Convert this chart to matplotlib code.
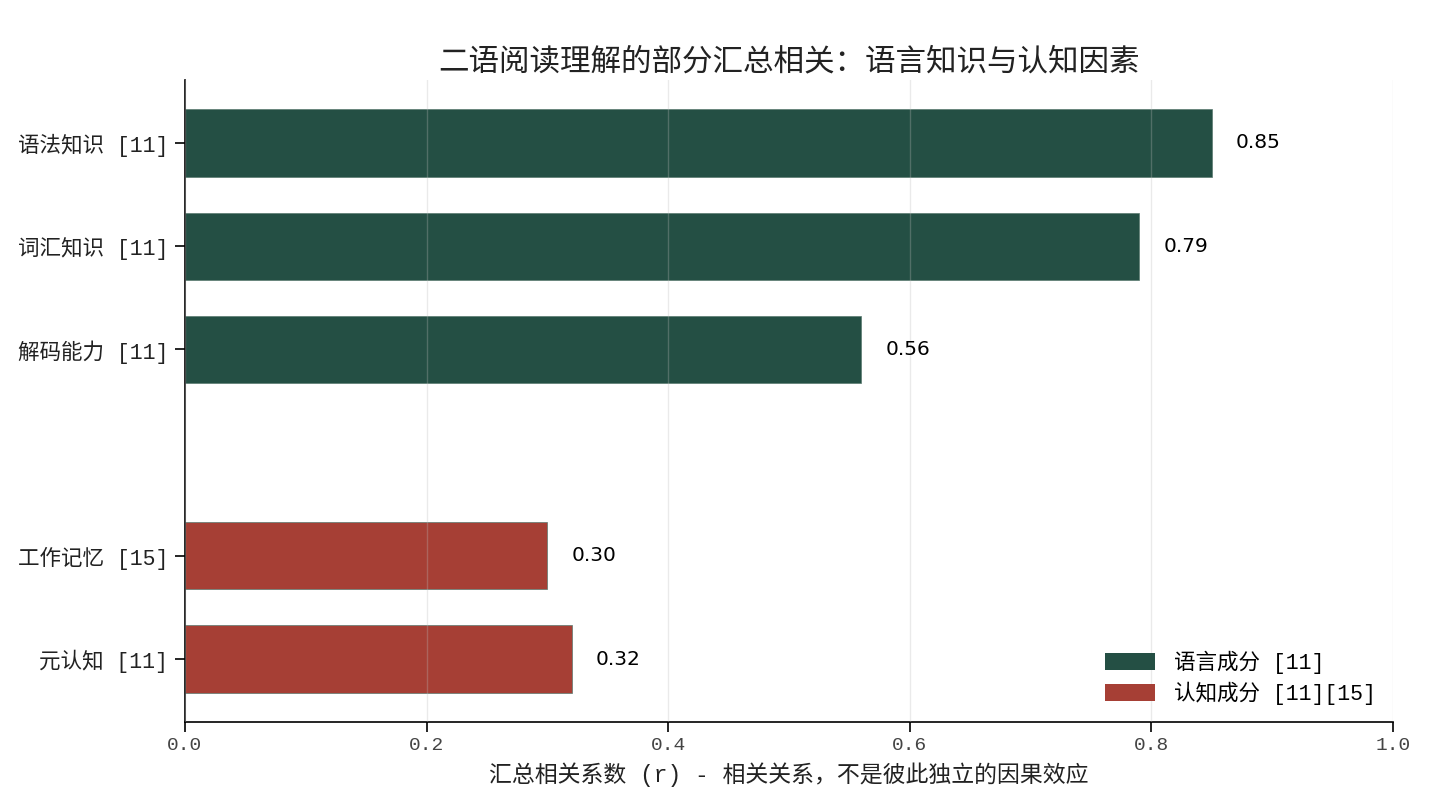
import matplotlib
matplotlib.use("Agg")
import matplotlib.pyplot as plt
from matplotlib.patches import Patch

plt.rcParams['font.family'] = ['Liberation Mono', 'Noto Sans CJK SC', 'DejaVu Sans']

labels = ["语法知识 [11]", "词汇知识 [11]", "解码能力 [11]", "工作记忆 [15]", "元认知 [11]"]
values = [0.85, 0.79, 0.56, 0.30, 0.32]
groups = ["lang", "lang", "lang", "cog", "cog"]
positions = [0, 1, 2, 4, 5]
xticks = [0.0, 0.2, 0.4, 0.6, 0.8, 1.0]

colors = {"lang": "#244f44", "cog": "#a63f35"}
legend_labels = {"lang": "语言成分 [11]", "cog": "认知成分 [11][15]"}

fig = plt.figure(figsize=(14.49, 8.10), dpi=100)
ax = fig.add_axes([185/1449, 1-722/810, (1393-185)/1449, (722-80)/810])

ax.barh(positions, values, height=0.65, color=[colors[g] for g in groups],
        edgecolor="#5a7a70", linewidth=0.5, zorder=1)
for p, v in zip(positions, values):
    ax.text(v + 0.02, p, f"{v:.2f}", va="center", ha="left", fontsize=14.5,
            family="DejaVu Sans", color="black")

ax.set_yticks(positions)
ax.set_yticklabels(labels, fontsize=15.5, color="#222222")
ax.set_ylim(5.61, -0.61)
ax.set_xlim(0, 1.0)
ax.set_xticks(xticks)
ax.set_xticklabels([f"{t:.1f}" for t in xticks], fontsize=14, color="#444444")
ax.tick_params(axis='x', length=7, width=1.2, pad=4)
ax.tick_params(axis='y', length=7, width=1.2, pad=5)
ax.xaxis.grid(True, color="#bbbbbb", alpha=0.3, linewidth=1.0, zorder=3)
ax.set_axisbelow(False)
for s in ["top", "right"]:
    ax.spines[s].set_visible(False)
for s in ["left", "bottom"]:
    ax.spines[s].set_linewidth(1.2)
    ax.spines[s].set_color("black")

ax.set_xlabel("汇总相关系数 (r) - 相关关系，不是彼此独立的因果效应", fontsize=16.5, color="#222222", labelpad=6)
ax.set_title("二语阅读理解的部分汇总相关：语言知识与认知因素", fontsize=22, color="#222222", pad=7)

handles = [Patch(facecolor=colors["lang"], label=legend_labels["lang"]),
           Patch(facecolor=colors["cog"], label=legend_labels["cog"])]
ax.legend(handles=handles, loc="lower right", frameon=False, fontsize=15.5,
          handlelength=2.3, handleheight=0.8, labelspacing=0.35,
          handletextpad=0.9, borderaxespad=0.4)

fig.savefig("out.png", dpi=100)
